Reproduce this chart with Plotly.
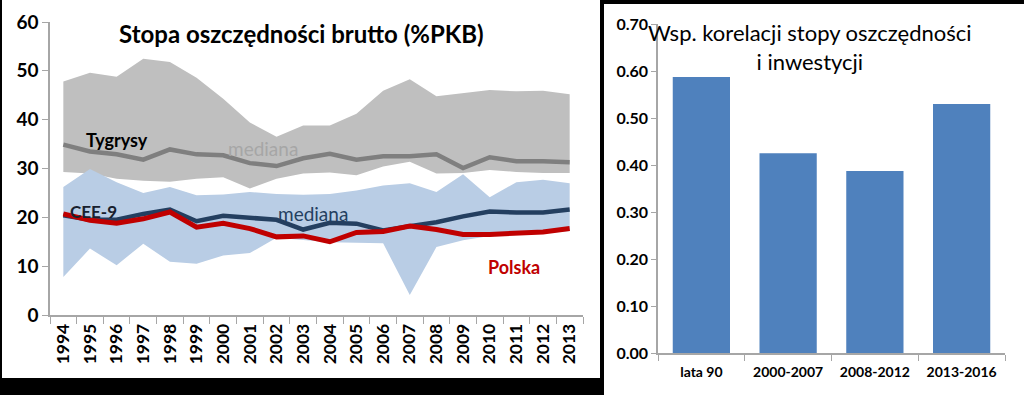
import plotly.graph_objects as go

# ---------------- data ----------------
years = [str(y) for y in range(1994, 2014)]

tygrysy_upper = [47.8, 49.6, 48.8, 52.5, 51.8, 48.6, 44.3, 39.4, 36.5, 38.8,
                 38.8, 41.2, 45.9, 48.3, 44.8, 45.4, 46.1, 45.8, 45.9, 45.2]
tygrysy_lower = [29.3, 29.0, 27.9, 27.5, 27.3, 27.9, 28.2, 25.9, 27.9, 29.0,
                 29.2, 28.6, 30.4, 31.4, 29.0, 29.1, 29.7, 29.3, 29.1, 29.1]
tygrysy_median = [34.9, 33.5, 32.9, 31.8, 33.9, 32.9, 32.7, 31.1, 30.5, 32.1,
                  33.0, 31.8, 32.5, 32.5, 32.9, 30.1, 32.3, 31.5, 31.5, 31.3]

cee_upper = [26.2, 29.9, 27.2, 25.0, 26.2, 24.5, 24.7, 25.2, 24.8, 24.6,
             24.8, 25.5, 26.5, 27.0, 25.2, 28.8, 24.1, 27.2, 27.7, 27.0]
cee_lower = [7.8, 13.6, 10.2, 14.6, 10.9, 10.5, 12.2, 12.7, 15.8, 15.4,
             14.9, 14.8, 14.7, 4.1, 13.9, 15.3, 16.2, 16.4, 16.7, 17.2]
cee_median = [20.4, 19.5, 19.5, 20.7, 21.6, 19.2, 20.3, 19.9, 19.5, 17.5,
              18.9, 18.7, 17.3, 18.2, 19.0, 20.2, 21.2, 21.0, 21.0, 21.6]
polska = [20.7, 19.4, 18.8, 19.7, 21.1, 18.0, 18.8, 17.7, 16.0, 16.2,
          15.0, 16.9, 17.1, 18.2, 17.5, 16.5, 16.5, 16.7, 17.0, 17.7]

periods = ["lata 90", "2000-2007", "2008-2012", "2013-2016"]
correlation = [0.587, 0.425, 0.387, 0.530]

left_ticks = [0, 10, 20, 30, 40, 50, 60]
right_ticks = [0.0, 0.1, 0.2, 0.3, 0.4, 0.5, 0.6, 0.7]

# ---------------- figure ----------------
W, H = 1024, 395
FONT = "Lato, 'Open Sans', sans-serif"

def px_x(p):
    return p / W

def px_y(p):
    return 1 - p / H

fig = go.Figure()

# grey band (Tygrysy range)
fig.add_trace(go.Scatter(x=years, y=tygrysy_lower, mode="lines", line=dict(width=0),
                         showlegend=False, hoverinfo="skip", xaxis="x", yaxis="y"))
fig.add_trace(go.Scatter(x=years, y=tygrysy_upper, mode="lines", line=dict(width=0),
                         fill="tonexty", fillcolor="#bfbfbf", showlegend=False,
                         xaxis="x", yaxis="y"))
# blue band (CEE-9 range)
fig.add_trace(go.Scatter(x=years, y=cee_lower, mode="lines", line=dict(width=0),
                         showlegend=False, hoverinfo="skip", xaxis="x", yaxis="y"))
fig.add_trace(go.Scatter(x=years, y=cee_upper, mode="lines", line=dict(width=0),
                         fill="tonexty", fillcolor="#b9cde5", showlegend=False,
                         xaxis="x", yaxis="y"))
# median lines
fig.add_trace(go.Scatter(x=years, y=tygrysy_median, mode="lines",
                         line=dict(color="#7f7f7f", width=4.5), showlegend=False,
                         xaxis="x", yaxis="y"))
fig.add_trace(go.Scatter(x=years, y=cee_median, mode="lines",
                         line=dict(color="#243f60", width=4.5), showlegend=False,
                         xaxis="x", yaxis="y"))
fig.add_trace(go.Scatter(x=years, y=polska, mode="lines",
                         line=dict(color="#c00000", width=5), showlegend=False,
                         xaxis="x", yaxis="y"))

# bars
fig.add_trace(go.Bar(x=periods, y=correlation, marker=dict(color="#4f81bd", line=dict(width=0)),
                     width=0.66, showlegend=False, xaxis="x2", yaxis="y2"))

axis_col = "#a6a6a6"

fig.update_layout(
    width=W, height=H,
    margin=dict(l=0, r=0, t=0, b=0, autoexpand=False),
    paper_bgcolor="black",
    plot_bgcolor="white",
    font=dict(family=FONT, color="black"),
    xaxis=dict(domain=[px_x(50), px_x(583)], type="category", range=[-0.5, 19.5],
               automargin=False,
               showgrid=False, zeroline=False, showline=True, linecolor=axis_col, linewidth=1.5,
               ticks="outside", tickson="boundaries", ticklen=7, tickcolor=axis_col,
               tickangle=-90, tickfont=dict(size=17.5, family=FONT, weight="bold"),
               anchor="y"),
    yaxis=dict(domain=[px_y(315), px_y(22)], range=[0, 60], tickvals=left_ticks,
               automargin=False,
               showgrid=False, zeroline=False, showline=True, linecolor=axis_col, linewidth=1.5,
               ticks="outside", ticklen=6, tickcolor=axis_col,
               tickfont=dict(size=19, family=FONT, weight="bold"), anchor="x"),
    xaxis2=dict(domain=[px_x(658), px_x(1005)], type="category", range=[-0.5, 3.5],
                automargin=False,
                showgrid=False, zeroline=False, showline=True, linecolor=axis_col, linewidth=1.5,
                ticks="outside", tickson="boundaries", ticklen=6, tickcolor=axis_col,
                ticklabelstandoff=5,
                tickfont=dict(size=14, family=FONT, weight="bold"), anchor="y2"),
    yaxis2=dict(domain=[px_y(353), px_y(24)], range=[0, 0.7], tickvals=right_ticks,
                tickformat=".2f", automargin=False,
                showgrid=False, zeroline=False, showline=True, linecolor=axis_col, linewidth=1.5,
                ticks="outside", ticklen=5, tickcolor=axis_col,
                tickfont=dict(size=16, family=FONT, weight="bold"), anchor="x2"),
    shapes=[
        dict(type="rect", xref="paper", yref="paper", x0=px_x(2), x1=px_x(600),
             y0=px_y(378), y1=px_y(0), fillcolor="white", line=dict(width=0), layer="below"),
        dict(type="rect", xref="paper", yref="paper", x0=px_x(604), x1=px_x(1024),
             y0=px_y(395), y1=px_y(4), fillcolor="white", line=dict(width=0), layer="below"),
    ],
    annotations=[
        dict(text="<b>Stopa oszczędności brutto (%PKB)</b>", xref="paper", yref="paper",
             x=px_x(301), y=px_y(33), showarrow=False, font=dict(size=24, family=FONT),
             xanchor="center", yanchor="middle"),
        dict(text="Wsp. korelacji stopy oszczędności<br>i inwestycji", xref="paper", yref="paper",
             x=px_x(810), y=px_y(47), showarrow=False, font=dict(size=22, family=FONT),
             xanchor="center", yanchor="middle", align="center"),
        dict(text="<b>Tygrysy</b>", xref="x", yref="y", x=2.0, y=35.8, showarrow=False,
             font=dict(size=18, family=FONT, color="black")),
        dict(text="mediana", xref="x", yref="y", x=7.5, y=34.0, showarrow=False,
             font=dict(size=19, family=FONT, color="#a6a6a6")),
        dict(text="<b>CEE-9</b>", xref="x", yref="y", x=1.15, y=21.1, showarrow=False,
             font=dict(size=17, family=FONT, color="#17202e")),
        dict(text="mediana", xref="x", yref="y", x=9.35, y=20.8, showarrow=False,
             font=dict(size=19, family=FONT, color="#243f60")),
        dict(text="<b>Polska</b>", xref="x", yref="y", x=16.9, y=9.8, showarrow=False,
             font=dict(size=18, family=FONT, color="#c00000")),
    ],
)

fig.write_html("out.html", config={"displayModeBar": False},
               post_script="document.body.style.margin='0';")
